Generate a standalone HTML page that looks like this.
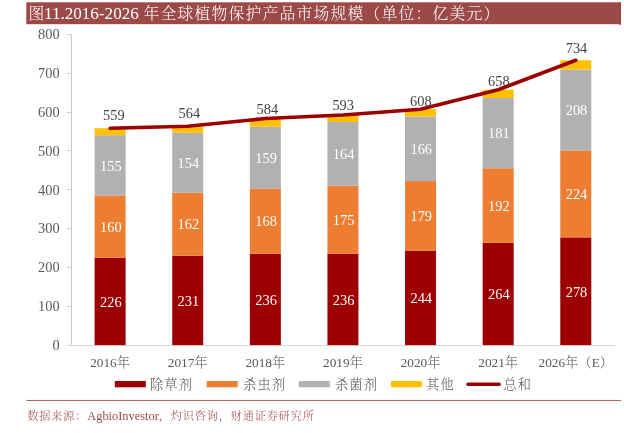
<!DOCTYPE html>
<html lang="zh-CN">
<head>
<meta charset="utf-8">
<title>图11.2016-2026 年全球植物保护产品市场规模</title>
<style>
html,body{margin:0;padding:0;background:#fff;}
body{width:624px;height:433px;overflow:hidden;}
svg{display:block;transform:translateZ(0);will-change:transform;}
text{font-family:"Liberation Serif","Noto Serif CJK SC",serif;}
.k{font-weight:300;}
</style>
</head>
<body>
<svg width="624" height="433" viewBox="0 0 624 433">
<rect x="0" y="0" width="624" height="433" fill="#ffffff"/>
<rect x="26.3" y="2.3" width="594.7" height="21.9" fill="#9C4A48"/>
<rect x="619.5" y="2.3" width="1.5" height="22.5" fill="#974340"/>
<text class="k" y="19" font-size="15.8" fill="#ffffff"><tspan x="28.4">图</tspan><tspan x="44" y="19.3" font-size="17.1">11.2016-2026 </tspan><tspan x="143.5" y="19" letter-spacing="1.2">年全球植物保护产品市场规模（单位：亿美元）</tspan></text>
<g stroke="#CBCBCB" stroke-width="1" fill="none" shape-rendering="crispEdges">
<line x1="71.3" y1="34.3" x2="71.3" y2="345.1"/>
<line x1="71.3" y1="345.1" x2="614.6" y2="345.1" stroke="#D6D6D6"/>
<line x1="67.3" y1="345.10" x2="71.3" y2="345.10"/>
<line x1="67.3" y1="306.25" x2="71.3" y2="306.25"/>
<line x1="67.3" y1="267.40" x2="71.3" y2="267.40"/>
<line x1="67.3" y1="228.55" x2="71.3" y2="228.55"/>
<line x1="67.3" y1="189.70" x2="71.3" y2="189.70"/>
<line x1="67.3" y1="150.85" x2="71.3" y2="150.85"/>
<line x1="67.3" y1="112.00" x2="71.3" y2="112.00"/>
<line x1="67.3" y1="73.15" x2="71.3" y2="73.15"/>
<line x1="67.3" y1="34.30" x2="71.3" y2="34.30"/>
</g>
<g font-size="14.4" fill="#595959" text-anchor="end">
<text x="59.6" y="349.90">0</text>
<text x="59.6" y="311.05">100</text>
<text x="59.6" y="272.20">200</text>
<text x="59.6" y="233.35">300</text>
<text x="59.6" y="194.50">400</text>
<text x="59.6" y="155.65">500</text>
<text x="59.6" y="116.80">600</text>
<text x="59.6" y="77.95">700</text>
<text x="59.6" y="39.10">800</text>
</g>
<rect x="94.61" y="257.60" width="31.0" height="87.50" fill="#9C0000"/>
<rect x="94.61" y="195.44" width="31.0" height="62.16" fill="#ED7D31"/>
<rect x="94.61" y="135.22" width="31.0" height="60.22" fill="#B1B1B1"/>
<rect x="94.61" y="128.23" width="31.0" height="6.99" fill="#FFC000"/>
<rect x="172.22" y="255.66" width="31.0" height="89.44" fill="#9C0000"/>
<rect x="172.22" y="192.72" width="31.0" height="62.94" fill="#ED7D31"/>
<rect x="172.22" y="132.89" width="31.0" height="59.83" fill="#B1B1B1"/>
<rect x="172.22" y="126.29" width="31.0" height="6.60" fill="#FFC000"/>
<rect x="249.84" y="253.71" width="31.0" height="91.39" fill="#9C0000"/>
<rect x="249.84" y="188.45" width="31.0" height="65.27" fill="#ED7D31"/>
<rect x="249.84" y="126.67" width="31.0" height="61.77" fill="#B1B1B1"/>
<rect x="249.84" y="118.52" width="31.0" height="8.16" fill="#FFC000"/>
<rect x="327.45" y="253.71" width="31.0" height="91.39" fill="#9C0000"/>
<rect x="327.45" y="185.73" width="31.0" height="67.99" fill="#ED7D31"/>
<rect x="327.45" y="122.01" width="31.0" height="63.71" fill="#B1B1B1"/>
<rect x="327.45" y="115.02" width="31.0" height="6.99" fill="#FFC000"/>
<rect x="405.06" y="250.61" width="31.0" height="94.49" fill="#9C0000"/>
<rect x="405.06" y="181.06" width="31.0" height="69.54" fill="#ED7D31"/>
<rect x="405.06" y="116.57" width="31.0" height="64.49" fill="#B1B1B1"/>
<rect x="405.06" y="109.19" width="31.0" height="7.38" fill="#FFC000"/>
<rect x="482.68" y="242.84" width="31.0" height="102.26" fill="#9C0000"/>
<rect x="482.68" y="168.24" width="31.0" height="74.59" fill="#ED7D31"/>
<rect x="482.68" y="97.93" width="31.0" height="70.32" fill="#B1B1B1"/>
<rect x="482.68" y="89.77" width="31.0" height="8.16" fill="#FFC000"/>
<rect x="560.29" y="237.40" width="31.0" height="107.70" fill="#9C0000"/>
<rect x="560.29" y="150.37" width="31.0" height="87.02" fill="#ED7D31"/>
<rect x="560.29" y="69.56" width="31.0" height="80.81" fill="#B1B1B1"/>
<rect x="560.29" y="60.24" width="31.0" height="9.32" fill="#FFC000"/>
<g font-size="14.4" fill="#ffffff" text-anchor="middle">
<text x="110.81" y="306.80">226</text>
<text x="110.81" y="231.82">160</text>
<text x="110.81" y="170.63">155</text>
<text x="188.42" y="305.83">231</text>
<text x="188.42" y="229.49">162</text>
<text x="188.42" y="168.11">154</text>
<text x="266.04" y="304.86">236</text>
<text x="266.04" y="226.38">168</text>
<text x="266.04" y="162.86">159</text>
<text x="343.65" y="304.86">236</text>
<text x="343.65" y="225.02">175</text>
<text x="343.65" y="159.17">164</text>
<text x="421.26" y="303.30">244</text>
<text x="421.26" y="221.14">179</text>
<text x="421.26" y="154.12">166</text>
<text x="498.88" y="299.42">264</text>
<text x="498.88" y="210.84">192</text>
<text x="498.88" y="138.38">181</text>
<text x="576.49" y="296.70">278</text>
<text x="576.49" y="199.19">224</text>
<text x="576.49" y="115.27">208</text>
</g>
<polyline points="110.11,128.23 187.72,126.29 265.34,118.52 342.95,115.02 420.56,109.19 498.18,89.77 575.79,60.24" fill="none" stroke="#9C0000" stroke-width="3.6" stroke-linecap="round" stroke-linejoin="round"/>
<g font-size="14.4" fill="#404040" text-anchor="middle">
<text x="113.9" y="119.7">559</text>
<text x="189.4" y="118.1">564</text>
<text x="267.4" y="113.7">584</text>
<text x="343.2" y="110.3">593</text>
<text x="420.9" y="106.2">608</text>
<text x="498.9" y="86.4">658</text>
<text x="576.5" y="52.9">734</text>
</g>
<g class="k" font-size="13.3" fill="#595959" text-anchor="middle">
<text x="110.11" y="367">2016年</text>
<text x="187.72" y="367">2017年</text>
<text x="265.34" y="367">2018年</text>
<text x="342.95" y="367">2019年</text>
<text x="420.56" y="367">2020年</text>
<text x="498.18" y="367">2021年</text>
<text x="575.79" y="367">2026年（E）</text>
</g>
<rect x="114.8" y="381" width="31" height="6.3" fill="#9C0000"/>
<text class="k" x="149.9" y="388.6" font-size="13.2" letter-spacing="1.2" fill="#595959">除草剂</text>
<rect x="206.7" y="381" width="31" height="6.3" fill="#ED7D31"/>
<text class="k" x="243.0" y="388.6" font-size="13.2" letter-spacing="1.2" fill="#595959">杀虫剂</text>
<rect x="298.8" y="381" width="31" height="6.3" fill="#B1B1B1"/>
<text class="k" x="334.9" y="388.6" font-size="13.2" letter-spacing="1.2" fill="#595959">杀菌剂</text>
<rect x="391.0" y="381" width="31" height="6.3" fill="#FFC000"/>
<text class="k" x="426.1" y="388.6" font-size="13.2" letter-spacing="1.2" fill="#595959">其他</text>
<line x1="468.1" y1="384.3" x2="499.1" y2="384.3" stroke="#9C0000" stroke-width="3.6" stroke-linecap="round"/>
<text class="k" x="503.4" y="388.6" font-size="13.2" letter-spacing="1.2" fill="#595959">总和</text>
<rect x="26.3" y="399.95" width="594.7" height="0.95" fill="#A9504E"/>
<text class="k" x="27.3" y="419.6" font-size="11.2" letter-spacing="0.8" fill="#9C4A48">数据来源：<tspan font-size="12.4" letter-spacing="0">AgbioInvestor</tspan>，灼识咨询，财通证券研究所</text>
</svg>
</body>
</html>
